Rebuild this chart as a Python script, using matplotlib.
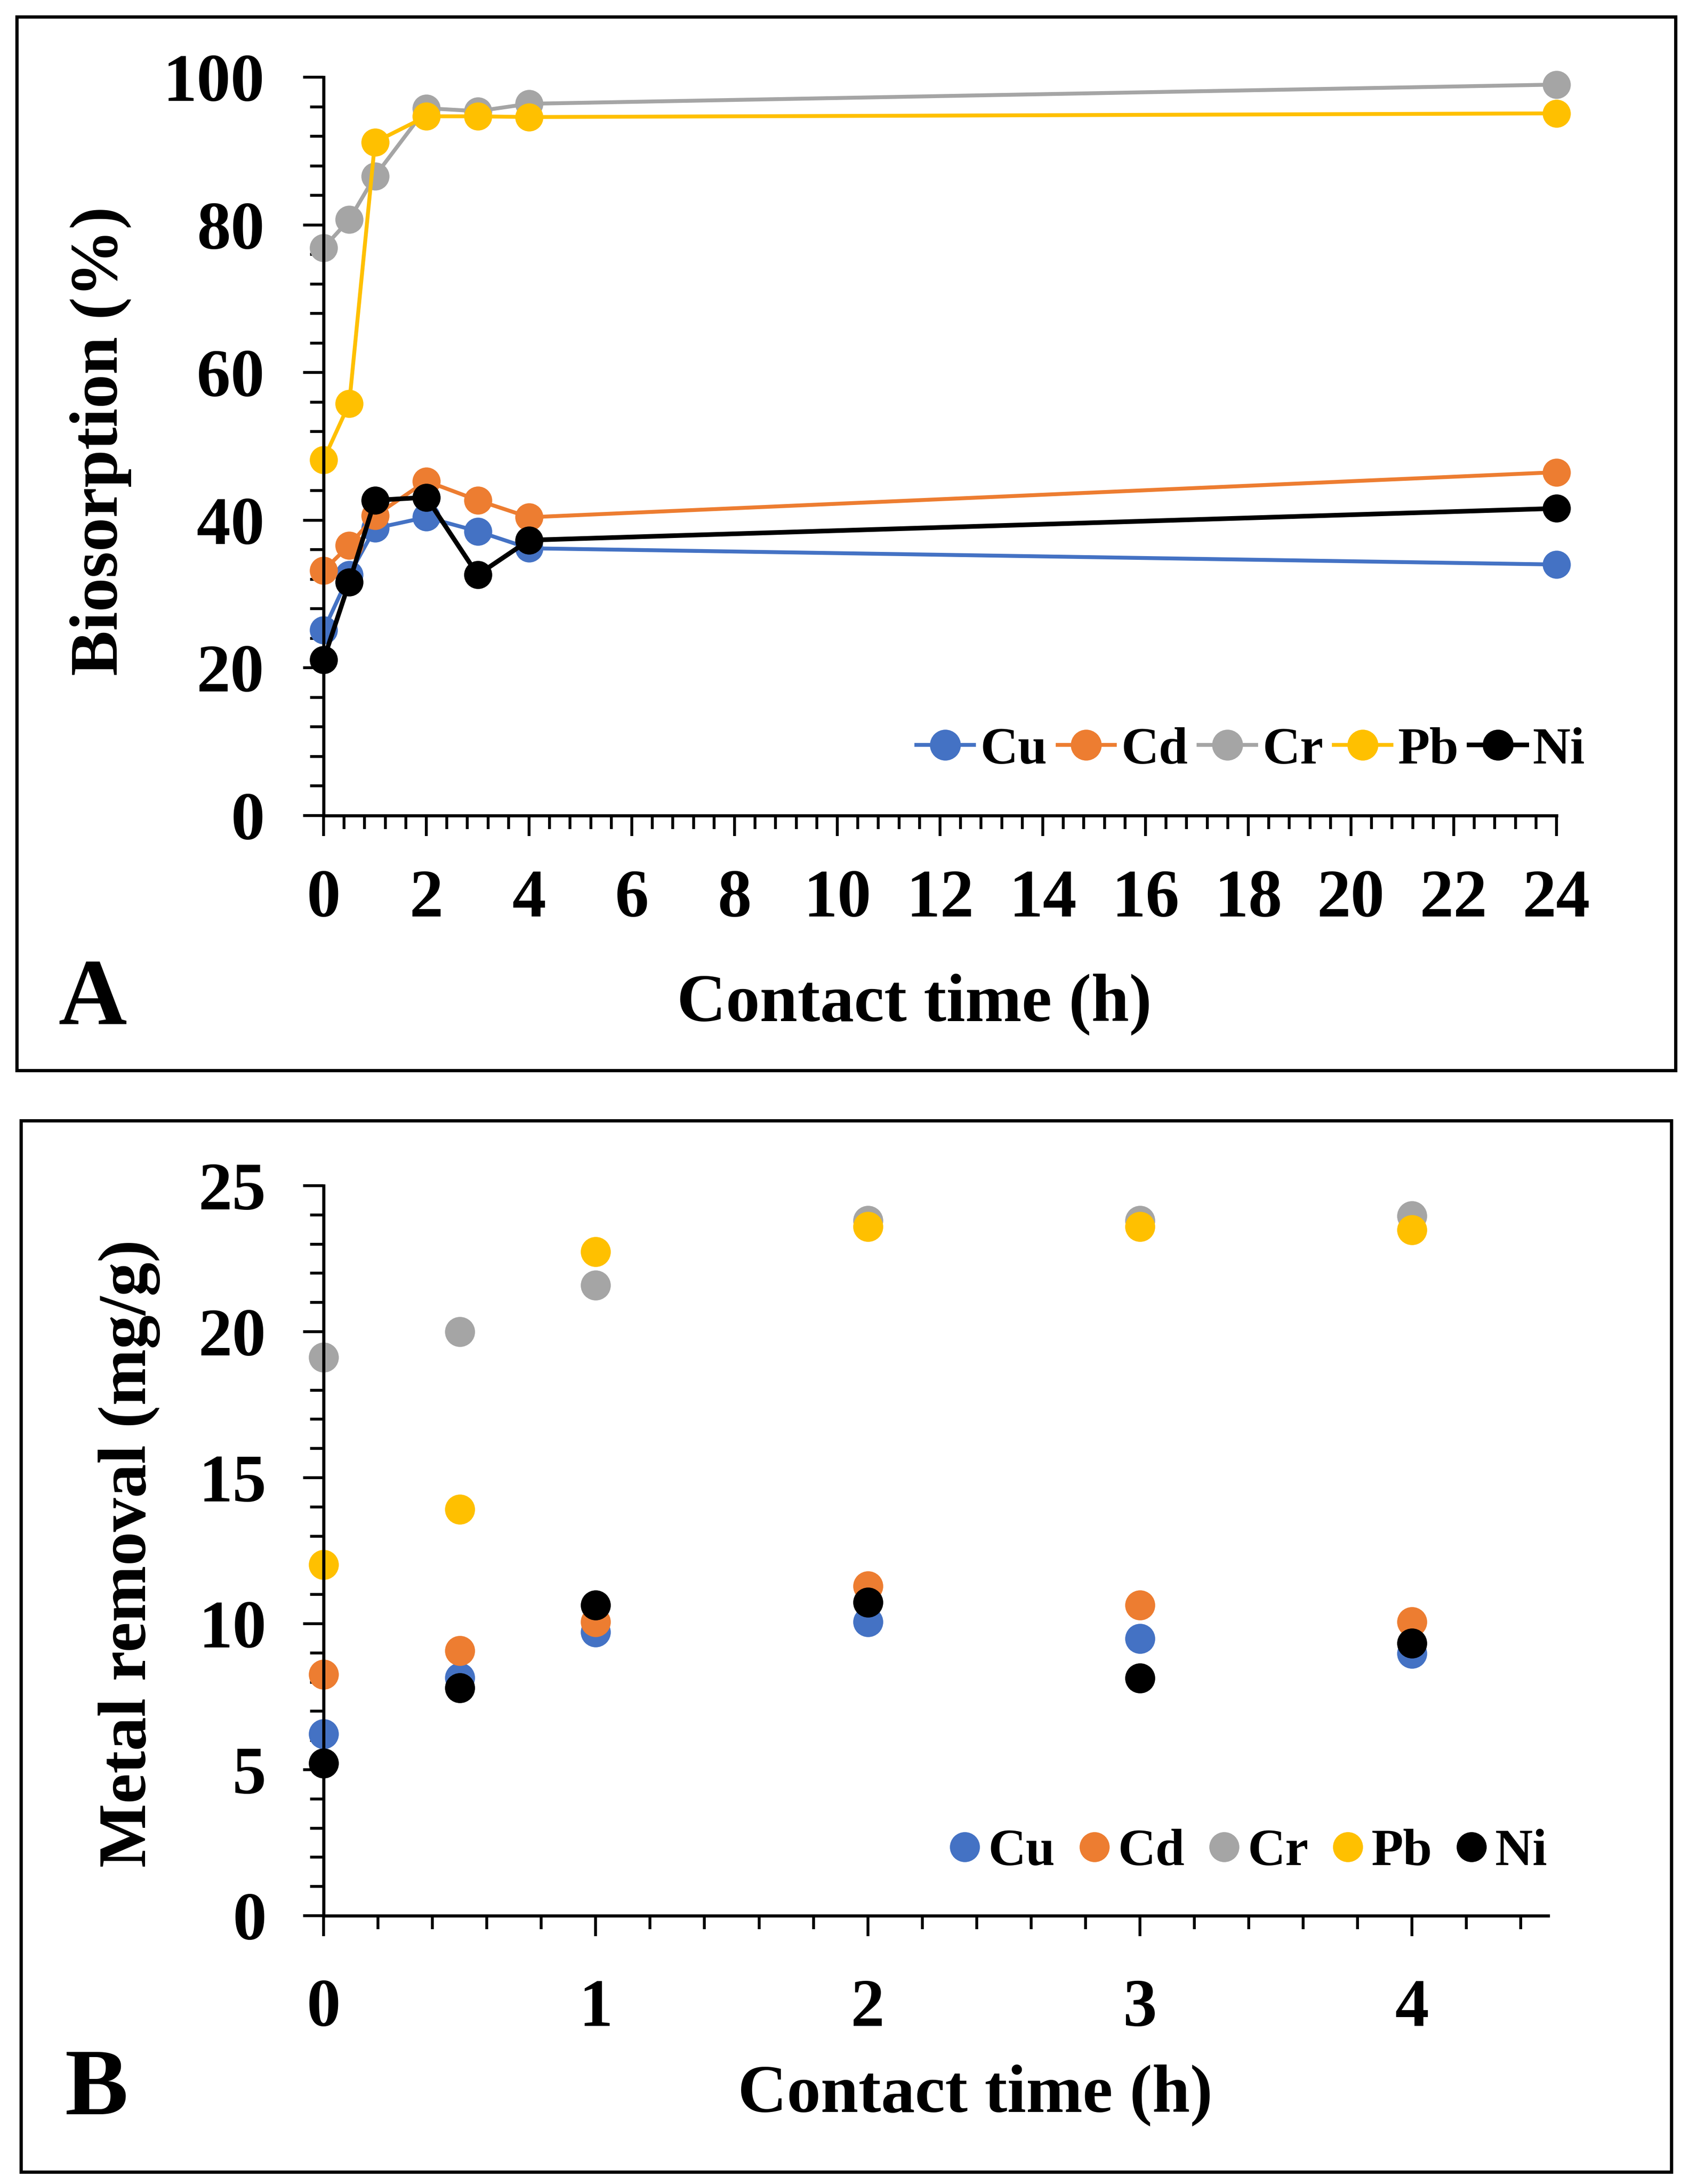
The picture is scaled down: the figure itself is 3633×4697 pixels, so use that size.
import matplotlib
matplotlib.use("Agg")
import matplotlib.pyplot as plt
from matplotlib.patches import Rectangle
from matplotlib.ticker import MultipleLocator

plt.rcParams['font.family'] = ['Liberation Serif', 'DejaVu Serif']
plt.rcParams['font.weight'] = 'bold'

W, H, DPI = 3633, 4697, 300

# data
metals = ["Cu", "Cd", "Cr", "Pb", "Ni"]
colors = ["#4472C4", "#ED7D31", "#A5A5A5", "#FFC000", "#000000"]

time_a = [0, 0.5, 1, 2, 3, 4, 24]
cu_a = [25.1, 32.6, 38.9, 40.4, 38.5, 36.2, 34.0]
cd_a = [33.2, 36.6, 40.6, 45.3, 42.7, 40.4, 46.5]
cr_a = [76.9, 80.7, 86.6, 95.8, 95.4, 96.4, 99.0]
pb_a = [48.2, 55.8, 91.2, 94.7, 94.7, 94.6, 95.1]
ni_a = [21.1, 31.6, 42.7, 43.1, 32.6, 37.3, 41.6]

time_b = [0, 0.5, 1, 2, 3, 4]
cu_b = [6.23, 8.16, 9.72, 10.07, 9.49, 8.98]
cd_b = [8.26, 9.07, 10.07, 11.29, 10.63, 10.07]
cr_b = [19.12, 20.0, 21.6, 23.8, 23.8, 23.97]
pb_b = [12.03, 13.92, 22.74, 23.6, 23.6, 23.48]
ni_b = [5.22, 7.81, 10.63, 10.73, 8.14, 9.33]

series_a = [cu_a, cd_a, cr_a, pb_a, ni_a]
series_b = [cu_b, cd_b, cr_b, pb_b, ni_b]
line_w = [2.0, 2.0, 2.0, 2.0, 2.4]

fig = plt.figure(figsize=(W / DPI, H / DPI), dpi=DPI)


def px_axes(left, top, right, bottom):
    return fig.add_axes([left / W, 1 - bottom / H, (right - left) / W, (bottom - top) / H])


def style_axes(ax, xpad, ypad):
    for s in ["top", "right"]:
        ax.spines[s].set_visible(False)
    for s in ["left", "bottom"]:
        ax.spines[s].set_linewidth(1.6)
    ax.tick_params(which="major", direction="out", length=10.5, width=1.5, labelsize=35)
    ax.tick_params(which="minor", direction="out", length=7, width=1.5)
    ax.tick_params(axis="x", which="major", pad=xpad)
    ax.tick_params(axis="y", which="major", pad=ypad)
    for lab in ax.get_xticklabels() + ax.get_yticklabels():
        lab.set_fontweight("bold")


# panel frames
fig.patches.append(Rectangle((36 / W, 1 - 2302 / H), (3604 - 36) / W, (2302 - 36) / H,
                             transform=fig.transFigure, fill=False, lw=1.7, ec="black"))
fig.patches.append(Rectangle((45 / W, 1 - 4671 / H), (3595 - 45) / W, (4671 - 2410) / H,
                             transform=fig.transFigure, fill=False, lw=1.7, ec="black"))

# ---- panel A
ax1 = px_axes(696, 166, 3348, 1754)
for name, vals, c, lw in zip(metals, series_a, colors, line_w):
    ax1.plot(time_a, vals, "-o", color=c, lw=lw, ms=14.5, mec=c, mew=0, label=name,
             clip_on=False)
ax1.set_xlim(0, 24)
ax1.set_ylim(0, 100)
ax1.xaxis.set_major_locator(MultipleLocator(2))
ax1.xaxis.set_minor_locator(MultipleLocator(0.4))
ax1.yaxis.set_major_locator(MultipleLocator(20))
ax1.yaxis.set_minor_locator(MultipleLocator(4))
style_axes(ax1, 17, 20)
ax1.set_xlabel("Contact time (h)", fontsize=35, fontweight="bold")
ax1.set_ylabel("Biosorption (%)", fontsize=35, fontweight="bold")
ax1.xaxis.set_label_coords(0.479, -0.2557)
ax1.xaxis.label.set_va("center")
ax1.yaxis.set_label_coords(-0.181, 0.507)
ax1.yaxis.label.set_va("center")
ax1.legend(loc="center", bbox_to_anchor=(0.752, 0.088), ncol=5, frameon=False,
           prop={"size": 27, "weight": "bold"}, handlelength=1.1, handletextpad=0.12,
           columnspacing=0.2, markerscale=1.1, borderaxespad=0)
fig.text(200 / W, 1 - 2153 / H, "A", fontsize=49, fontweight="bold", ha="center", va="center")

# ---- panel B
ax2 = px_axes(696, 2550, 3330, 4120)
for name, vals, c in zip(metals, series_b, colors):
    ax2.plot(time_b, vals, "o", color=c, ms=15.5, mec=c, mew=0, label=name, clip_on=False)
ax2.set_xlim(0, 4.5)
ax2.set_ylim(0, 25)
ax2.xaxis.set_major_locator(MultipleLocator(1))
ax2.xaxis.set_minor_locator(MultipleLocator(0.2))
ax2.yaxis.set_major_locator(MultipleLocator(5))
ax2.yaxis.set_minor_locator(MultipleLocator(1))
style_axes(ax2, 22, 19)
ax2.set_xlabel("Contact time (h)", fontsize=35, fontweight="bold")
ax2.set_ylabel("Metal removal (mg/g)", fontsize=35, fontweight="bold")
ax2.xaxis.set_label_coords(0.532, -0.246)
ax2.xaxis.label.set_va("center")
ax2.yaxis.set_label_coords(-0.1587, 0.496)
ax2.yaxis.label.set_va("center")
ax2.legend(loc="center", bbox_to_anchor=(0.755, 0.0866), ncol=5, frameon=False,
           prop={"size": 27, "weight": "bold"}, handlelength=0.6, handletextpad=0.15,
           columnspacing=0.45, markerscale=1.0, borderaxespad=0)
fig.text(208 / W, 1 - 4498 / H, "B", fontsize=49, fontweight="bold", ha="center", va="center")

fig.savefig("out.png", dpi=DPI, facecolor="white")
